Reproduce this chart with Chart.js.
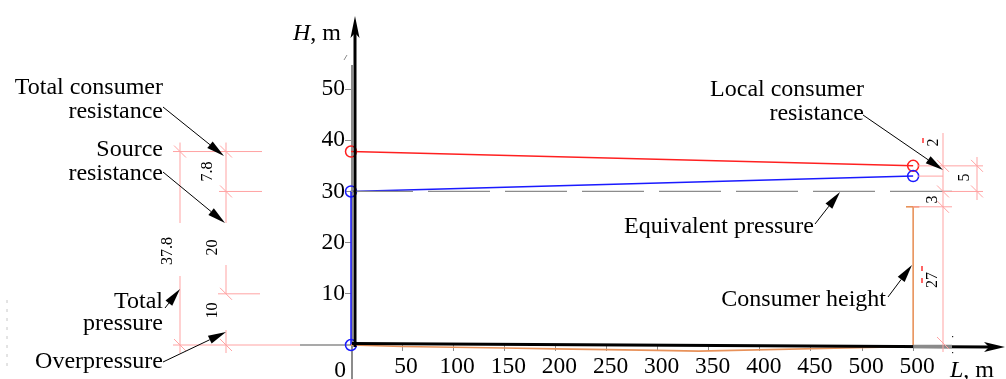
<!DOCTYPE html>
<html><head><meta charset="utf-8">
<script src="https://cdn.jsdelivr.net/npm/chart.js@4.4.0/dist/chart.umd.min.js"></script>
<style>html,body{margin:0;padding:0;background:#fff;overflow:hidden}canvas{display:block}</style>
</head><body>
<canvas id="c" width="1006" height="379"></canvas>
<script>
const FONT = '"Liberation Serif","Times New Roman",serif';

// ---- data ----
const xTickValues = [0, 50, 100, 150, 200, 250, 300, 350, 400, 450, 500, 550];
const xTickLabels = ['', '50', '100', '150', '200', '250', '300', '350', '400', '450', '500', '500'];
const yTickValues = [10, 20, 30, 40, 50];

const totalPressureL = [0, 550];
const totalPressureH = [37.8, 35];
const piezoL = [0, 0, 550];
const piezoH = [0, 30, 33];
const equivL = [0, 593];
const equivH = [30, 30];
const groundL = [0, 50, 100, 150, 200, 250, 300, 340, 550, 550];
const groundH = [0, -0.3, -0.45, -0.6, -0.75, -0.9, -1.05, -1.2, -0.3, 27];
const capL = [543, 556];
const capH = [27, 27];

const leftDimLevels = [0, 10, 30, 37.8];
const rightDimLevels = [27, 30, 33, 35];
const leftDimTexts = ['37.8', '7.8', '20', '10'];
const rightDimTexts = ['2', '5', '3', '27'];

const pts = (xs, ys) => xs.map((v, i) => ({x: v, y: ys[i]}));

function line(ctx, x1, y1, x2, y2) { ctx.beginPath(); ctx.moveTo(x1, y1); ctx.lineTo(x2, y2); ctx.stroke(); }
function arrow(ctx, x1, y1, x2, y2, len = 18, hw = 4.3) {
  const a = Math.atan2(y2 - y1, x2 - x1);
  const bx = x2 - len * Math.cos(a), by = y2 - len * Math.sin(a);
  ctx.beginPath(); ctx.moveTo(x1, y1); ctx.lineTo(bx, by); ctx.stroke();
  ctx.beginPath();
  ctx.moveTo(x2, y2);
  ctx.lineTo(bx + hw * Math.sin(a), by - hw * Math.cos(a));
  ctx.lineTo(bx - hw * Math.sin(a), by + hw * Math.cos(a));
  ctx.closePath(); ctx.fill();
}
function slash(ctx, x, y) { line(ctx, x - 6, y - 6, x + 6, y + 6); }
function rotText(ctx, t, x, y) {
  ctx.save(); ctx.translate(x, y); ctx.rotate(-Math.PI / 2);
  ctx.textAlign = 'center'; ctx.textBaseline = 'middle'; ctx.fillText(t, 0, 0); ctx.restore();
}

const deco = {
  id: 'deco',
  beforeDatasetsDraw(chart) {
    const {ctx, scales: {x, y}} = chart;
    const x0 = x.getPixelForValue(0), y0 = y.getPixelForValue(0);
    ctx.save();
    ctx.strokeStyle = '#8c8c8c';
    ctx.lineWidth = 2;
    line(ctx, x0 + 1, 65, x0 + 1, 379);
    ctx.lineWidth = 1.5;
    line(ctx, 300, y0, x0, y0);
    ctx.lineWidth = 1;
    line(ctx, 344, 60, 347, 55);
    ctx.setLineDash([3, 6]); ctx.strokeStyle = '#c8c8c8';
    line(ctx, 7, 300, 7, 372);
    ctx.restore();
  },
  afterDatasetsDraw(chart) {
    const {ctx, scales: {x, y}} = chart;
    const x0 = x.getPixelForValue(0), y0 = y.getPixelForValue(0);
    ctx.save();
    ctx.strokeStyle = '#000'; ctx.fillStyle = '#000';
    ctx.lineWidth = 3;
    // vertical axis
    line(ctx, x0 + 4, y0 + 2, x0 + 4, 30);
    ctx.beginPath(); ctx.moveTo(x0 + 4, 16); ctx.lineTo(x0 + 8.5, 38); ctx.lineTo(x0 + 4, 33); ctx.lineTo(x0 - 0.5, 38); ctx.closePath(); ctx.fill();
    // horizontal axis
    line(ctx, x0 + 1, y0 - 1.5, 990, y0 + 2);
    ctx.beginPath(); ctx.moveTo(1005, y0 + 2); ctx.lineTo(984, y0 - 3); ctx.lineTo(989, y0 + 2); ctx.lineTo(984, y0 + 7); ctx.closePath(); ctx.fill();
    ctx.strokeStyle = '#8a8a8a'; ctx.lineWidth = 3.5;
    line(ctx, x.getPixelForValue(550), y0 + 1.5, 952, y0 + 1.5);
    ctx.fillStyle = '#222';
    ctx.fillRect(952, 336, 1.2, 1.2); ctx.fillRect(952, 352, 1.2, 1.2);
    ctx.restore();
  },
  afterDraw(chart) {
    const {ctx, scales: {x, y}} = chart;
    const Y = v => y.getPixelForValue(v);
    const x0 = x.getPixelForValue(0), y0 = Y(0);
    ctx.save();
    // ---- pink dimension lines, left ----
    ctx.strokeStyle = '#ffa3a3'; ctx.lineWidth = 1;
    const [d0, d10, d30, d378] = leftDimLevels.map(Y);
    line(ctx, 180, d378 - 9, 180, 223); line(ctx, 180, 276, 180, d0 + 8);
    line(ctx, 226, d378 - 9, 226, 223); line(ctx, 226, 265, 226, d10); line(ctx, 226, 330, 226, d0 + 8);
    line(ctx, 173, d378, 262, d378);
    line(ctx, 219, d30, 262, d30);
    line(ctx, 218, d10, 260, d10);
    line(ctx, 173, d0, 300, d0);
    [[180, d378], [226, d378], [226, d30], [226, d10], [180, d0], [226, d0]].forEach(p => slash(ctx, p[0], p[1]));
    // ---- pink dimension lines, right ----
    const [r27, r30, r33, r35] = rightDimLevels.map(Y);
    line(ctx, 943, 133, 943, y0 + 7);
    line(ctx, 977, 157, 977, 200);
    line(ctx, 917, r35, 983, r35);
    line(ctx, 918, r33, 943, r33);
    line(ctx, 943, r30, 983, r30);
    line(ctx, 913, r27, 952, r27);
    [[943, r35], [977, r35], [943, r30], [977, r30], [943, r27], [943, y0 - 2]].forEach(p => slash(ctx, p[0], p[1]));
    // tiny red marks
    ctx.strokeStyle = '#ff3030'; ctx.lineWidth = 1.5;
    line(ctx, 923, 138, 923, 143); line(ctx, 922, 266, 922, 271); line(ctx, 922, 278, 922, 283);
    // dimension texts
    ctx.fillStyle = '#000';
    ctx.font = '16px ' + FONT;
    rotText(ctx, leftDimTexts[0], 168, 251);
    rotText(ctx, leftDimTexts[1], 207.5, 171.5);
    rotText(ctx, leftDimTexts[2], 212.5, 247.5);
    rotText(ctx, leftDimTexts[3], 212.5, 310.5);
    rotText(ctx, rightDimTexts[0], 934, 142.5);
    rotText(ctx, rightDimTexts[1], 965, 177.5);
    rotText(ctx, rightDimTexts[2], 932.5, 199.5);
    rotText(ctx, rightDimTexts[3], 932.5, 280);
    // ---- annotation labels ----
    ctx.font = '24px ' + FONT;
    ctx.textAlign = 'right'; ctx.textBaseline = 'alphabetic';
    ctx.fillText('Total consumer', 163, 94);
    ctx.fillText('resistance', 163, 118);
    ctx.fillText('Source', 163, 156);
    ctx.fillText('resistance', 163, 180);
    ctx.fillText('Total', 163, 308);
    ctx.fillText('pressure', 163, 330);
    ctx.fillText('Overpressure', 163, 368);
    ctx.fillText('Local consumer', 864, 96);
    ctx.fillText('resistance', 864, 120);
    ctx.fillText('Equivalent pressure', 814, 233);
    ctx.fillText('Consumer height', 886, 306);
    // axis titles
    ctx.textAlign = 'left';
    ctx.font = 'italic 24px ' + FONT;
    ctx.fillText('H', 293, 40);
    let w = ctx.measureText('H').width;
    ctx.font = '24px ' + FONT;
    ctx.fillText(', m', 293 + w, 40);
    ctx.font = 'italic 24px ' + FONT;
    ctx.fillText('L', 950, 377);
    w = ctx.measureText('L').width;
    ctx.font = '24px ' + FONT;
    ctx.fillText(', m', 950 + w, 377);
    ctx.font = '23.5px ' + FONT;
    ctx.textAlign = 'center';
    ctx.fillText('0', x0 - 11, 377);
    // ---- arrows ----
    ctx.strokeStyle = '#000'; ctx.fillStyle = '#000'; ctx.lineWidth = 1;
    arrow(ctx, 163, 107, 224, 156);
    arrow(ctx, 163, 172, 225, 223);
    arrow(ctx, 165, 308, 180, 289);
    arrow(ctx, 163, 362, 226, 332);
    arrow(ctx, 863, 115, 943, 170);
    arrow(ctx, 815, 224, 840, 192);
    arrow(ctx, 888, 297, 912, 265);
    ctx.restore();
  }
};

new Chart(document.getElementById('c'), {
  type: 'scatter',
  data: {
    datasets: [
      {data: pts(equivL, equivH), showLine: true, borderColor: '#8c8c8c', borderWidth: 1.3, borderDash: [62, 15], pointRadius: 0, clip: false},
      {data: pts(groundL, groundH), showLine: true, borderColor: '#e8925a', borderWidth: 1.6, pointRadius: 0, clip: false},
      {data: pts(capL, capH), showLine: true, borderColor: '#e8925a', borderWidth: 1.6, pointRadius: 0, clip: false},
      {data: pts(piezoL, piezoH), showLine: true, borderColor: '#1a1aff', borderWidth: 1.5, pointRadius: 5.5,
       pointBorderColor: '#1a1aff', pointBackgroundColor: 'rgba(0,0,0,0)', pointBorderWidth: 1.5, clip: false},
      {data: pts(totalPressureL, totalPressureH), showLine: true, borderColor: '#ff2020', borderWidth: 1.5, pointRadius: 5.5,
       pointBorderColor: '#ff2020', pointBackgroundColor: 'rgba(0,0,0,0)', pointBorderWidth: 1.5, clip: false}
    ]
  },
  options: {
    responsive: false, animation: false, events: [],
    plugins: {legend: {display: false}, tooltip: {enabled: false}},
    layout: {padding: {top: 20, right: 6, bottom: 0, left: 0}},
    scales: {
      x: {
        type: 'linear', min: 0, max: 634,
        afterBuildTicks: s => { s.ticks = xTickValues.map(v => ({value: v})); },
        afterFit: s => { s.height = 34; },
        ticks: {callback: v => xTickLabels[xTickValues.indexOf(v)], font: {family: FONT, size: 23.5}, color: '#000',
                padding: 2, labelOffset: 4, maxRotation: 0, autoSkip: false},
        grid: {drawOnChartArea: false, color: '#8c8c8c', tickLength: 6, tickWidth: 1},
        border: {display: false}
      },
      y: {
        type: 'linear', min: 0, max: 63.5,
        afterBuildTicks: s => { s.ticks = yTickValues.map(v => ({value: v})); },
        afterFit: s => { s.width = 351; },
        ticks: {font: {family: FONT, size: 23.5}, color: '#000', padding: 0},
        grid: {drawOnChartArea: false, color: '#8c8c8c', tickLength: 6, tickWidth: 1},
        border: {display: false}
      }
    }
  },
  plugins: [deco]
});
</script>
</body></html>
